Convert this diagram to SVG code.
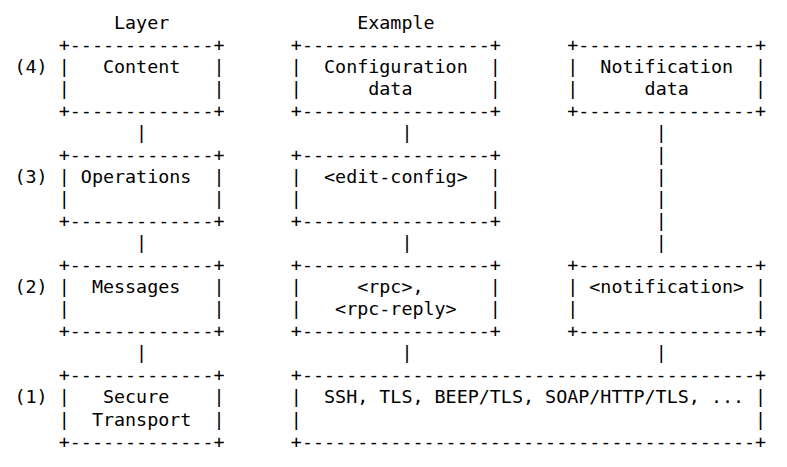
<svg xmlns="http://www.w3.org/2000/svg" width="787" height="467" viewBox="0 0 787 467">
<style>
text{font-family:"DejaVu Sans Mono","Liberation Mono",monospace;font-size:18.36px;fill:#000;white-space:pre}
</style>
<rect width="787" height="467" fill="#fff"/>
<g transform="translate(1.5,0)">
<g id="headers">
<text x="112.49" y="28.8">Layer</text>
<text x="355.68" y="28.8">Example</text>
</g>
<g id="layer-labels">
<text x="13.01" y="72.88">(4)</text>
<text x="13.01" y="183.08">(3)</text>
<text x="13.01" y="293.28">(2)</text>
<text x="13.01" y="403.48">(1)</text>
</g>
<g id="content">
<text xml:space="preserve"><tspan x="57.22" y="50.84">+-------------+</tspan><tspan x="57.22" y="72.88">|   Content   |</tspan><tspan x="57.22" y="94.92">|             |</tspan><tspan x="57.22" y="116.96">+-------------+</tspan></text>
</g>
<g id="configuration-data">
<text xml:space="preserve"><tspan x="289.36" y="50.84">+-----------------+</tspan><tspan x="289.36" y="72.88">|  Configuration  |</tspan><tspan x="289.36" y="94.92">|      data       |</tspan><tspan x="289.36" y="116.96">+-----------------+</tspan></text>
</g>
<g id="notification-data">
<text xml:space="preserve"><tspan x="565.71" y="50.84">+----------------+</tspan><tspan x="565.71" y="72.88">|  Notification  |</tspan><tspan x="565.71" y="94.92">|      data      |</tspan><tspan x="565.71" y="116.96">+----------------+</tspan></text>
</g>
<g id="operations">
<text xml:space="preserve"><tspan x="57.22" y="161.04">+-------------+</tspan><tspan x="57.22" y="183.08">| Operations  |</tspan><tspan x="57.22" y="205.12">|             |</tspan><tspan x="57.22" y="227.16">+-------------+</tspan></text>
</g>
<g id="edit-config">
<text xml:space="preserve"><tspan x="289.36" y="161.04">+-----------------+</tspan><tspan x="289.36" y="183.08">|  &lt;edit-config&gt;  |</tspan><tspan x="289.36" y="205.12">|                 |</tspan><tspan x="289.36" y="227.16">+-----------------+</tspan></text>
</g>
<g id="messages">
<text xml:space="preserve"><tspan x="57.22" y="271.24">+-------------+</tspan><tspan x="57.22" y="293.28">|  Messages   |</tspan><tspan x="57.22" y="315.32">|             |</tspan><tspan x="57.22" y="337.36">+-------------+</tspan></text>
</g>
<g id="rpc">
<text xml:space="preserve"><tspan x="289.36" y="271.24">+-----------------+</tspan><tspan x="289.36" y="293.28">|     &lt;rpc&gt;,      |</tspan><tspan x="289.36" y="315.32">|   &lt;rpc-reply&gt;   |</tspan><tspan x="289.36" y="337.36">+-----------------+</tspan></text>
</g>
<g id="notification">
<text xml:space="preserve"><tspan x="565.71" y="271.24">+----------------+</tspan><tspan x="565.71" y="293.28">| &lt;notification&gt; |</tspan><tspan x="565.71" y="315.32">|                |</tspan><tspan x="565.71" y="337.36">+----------------+</tspan></text>
</g>
<g id="secure-transport">
<text xml:space="preserve"><tspan x="57.22" y="381.44">+-------------+</tspan><tspan x="57.22" y="403.48">|   Secure    |</tspan><tspan x="57.22" y="425.52">|  Transport  |</tspan><tspan x="57.22" y="447.56">+-------------+</tspan></text>
</g>
<g id="transports">
<text xml:space="preserve"><tspan x="289.36" y="381.44">+-----------------------------------------+</tspan><tspan x="289.36" y="403.48">|  SSH, TLS, BEEP/TLS, SOAP/HTTP/TLS, ... |</tspan><tspan x="289.36" y="425.52">|                                         |</tspan><tspan x="289.36" y="447.56">+-----------------------------------------+</tspan></text>
</g>
<g id="connectors">
<text x="134.60" y="139.0">|</text>
<text x="134.60" y="249.2">|</text>
<text x="134.60" y="359.4">|</text>
<text x="399.90" y="139.0">|</text>
<text x="399.90" y="249.2">|</text>
<text x="399.90" y="359.4">|</text>
<text x="654.14" y="139.0">|</text>
<text x="654.14" y="161.04">|</text>
<text x="654.14" y="183.08">|</text>
<text x="654.14" y="205.12">|</text>
<text x="654.14" y="227.16">|</text>
<text x="654.14" y="249.2">|</text>
<text x="654.14" y="359.4">|</text>
</g>
</g>
</svg>
